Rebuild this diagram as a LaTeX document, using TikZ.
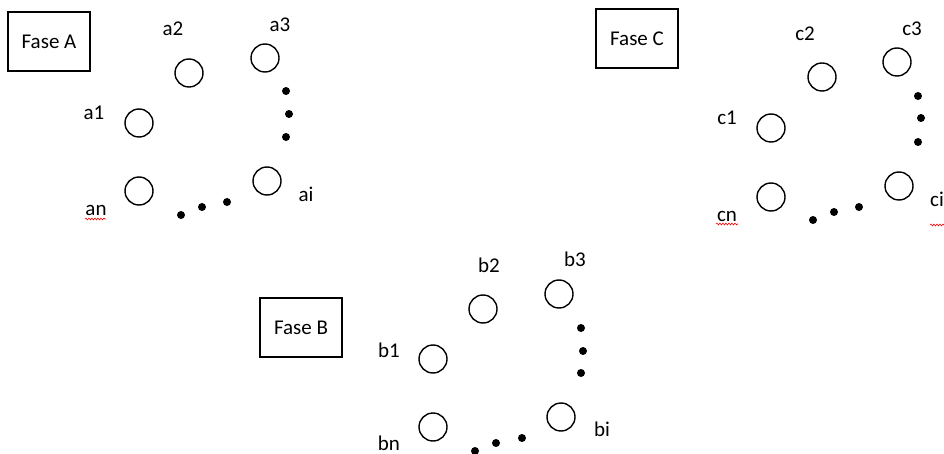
\documentclass[tikz,border=0pt]{standalone}
\usepackage{fontspec}
\setmainfont{Carlito}
\usetikzlibrary{decorations.pathmorphing}
\tikzset{
  phasebox/.style={draw, line width=1.4pt, minimum width=82pt, minimum height=59pt, inner sep=0pt, font=\fontsize{21}{25}\selectfont},
  ring/.style={draw, circle, line width=1.4pt, minimum size=28pt, inner sep=0pt},
  blob/.style={fill, circle, minimum size=8pt, inner sep=0pt},
  lbl/.style={inner sep=0pt, font=\fontsize{21}{25}\selectfont},
  spell/.style={red, line width=0.6pt, decorate, decoration={snake, amplitude=0.9pt, segment length=3pt}}
}
\begin{document}
\begin{tikzpicture}[x=1pt,y=-1pt]
\useasboundingbox (0,0) rectangle (944,454);
\clip (0,0) rectangle (944,454);
% ---------- Fase A ----------
\node[phasebox] (boxA) at (49,41.5) {Fase A};
\node[ring] (a1) at (139,123) {};
\node[ring] (a2) at (189,73) {};
\node[ring] (a3) at (265,58) {};
\node[ring] (ai) at (267,181) {};
\node[ring] (an) at (139,191) {};
\node[lbl] (la1) at (94,113) {a1};
\node[lbl] (la2) at (173,29) {a2};
\node[lbl] (la3) at (280,25) {a3};
\node[lbl] (lai) at (306,194) {ai};
\node[lbl] (lan) at (96,210) {an};
\node[blob] (da1) at (286,91) {};
\node[blob] (da2) at (289,114) {};
\node[blob] (da3) at (286,137) {};
\node[blob] (da4) at (181,215) {};
\node[blob] (da5) at (202,207) {};
\node[blob] (da6) at (227,202) {};
\coordinate (sa1) at (85,219);
\coordinate (sa2) at (106,219);
\draw[spell] (sa1) -- (sa2);
% ---------- Fase C ----------
\node[phasebox] (boxC) at (637,38.5) {Fase C};
\node[ring] (c1) at (771,128) {};
\node[ring] (c2) at (822,77) {};
\node[ring] (c3) at (897,62) {};
\node[ring] (ci) at (899,186) {};
\node[ring] (cn) at (771,197) {};
\node[lbl] (lc1) at (727,118) {c1};
\node[lbl] (lc2) at (805,34) {c2};
\node[lbl] (lc3) at (912,29) {c3};
\node[lbl, anchor=west] (lci) at (930,199) {ci};
\node[lbl] (lcn) at (727,216) {cn};
\node[blob] (dc1) at (918,96) {};
\node[blob] (dc2) at (921,118) {};
\node[blob] (dc3) at (918,142) {};
\node[blob] (dc4) at (813,220) {};
\node[blob] (dc5) at (834,212) {};
\node[blob] (dc6) at (859,207) {};
\coordinate (sc1) at (716,224);
\coordinate (sc2) at (738,224);
\draw[spell] (sc1) -- (sc2);
\coordinate (sc3) at (930,225);
\coordinate (sc4) at (944,225);
\draw[spell] (sc3) -- (sc4);
% ---------- Fase B ----------
\node[phasebox] (boxB) at (301,327.5) {Fase B};
\node[ring] (b1) at (433,359) {};
\node[ring] (b2) at (483,309) {};
\node[ring] (b3) at (559,294) {};
\node[ring] (bi) at (561,417) {};
\node[ring] (bn) at (433,427) {};
\node[lbl] (lb1) at (389,350) {b1};
\node[lbl] (lb2) at (489,265) {b2};
\node[lbl] (lb3) at (575,259) {b3};
\node[lbl] (lbi) at (602,429) {bi};
\node[lbl] (lbn) at (389,443) {bn};
\node[blob] (db1) at (581,328) {};
\node[blob] (db2) at (583,351) {};
\node[blob] (db3) at (581,373) {};
\node[blob] (db4) at (475,451) {};
\node[blob] (db5) at (496,443) {};
\node[blob] (db6) at (522,438) {};
\end{tikzpicture}
\end{document}
